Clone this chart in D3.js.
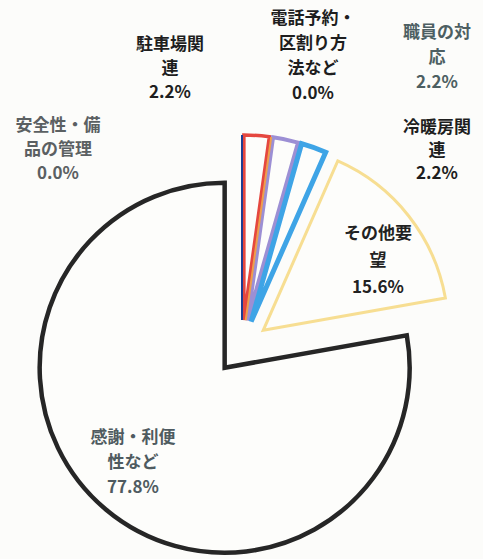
<!DOCTYPE html>
<html lang="ja">
<head>
<meta charset="UTF-8">
<title>Pie</title>
<script src="https://d3js.org/d3.v7.min.js"></script>
<style>
  body { margin: 0; background: #fcfcfa; }
  svg { display: block; }
  .lbl text { font-family: "Noto Sans CJK JP", sans-serif; font-weight: 700; font-size: 17px; }
</style>
</head>
<body>
<svg id="chart"></svg>
<script>
// data
const categories = ["安全性・備品の管理", "駐車場関連", "電話予約・区割り方法など", "職員の対応", "冷暖房関連", "その他要望", "感謝・利便性など"];
const values = [0.0, 2.2, 0.0, 2.2, 2.2, 15.6, 77.8];
const labelLines = [
    ["安全性・備", "品の管理"],
    ["駐車場関", "連"],
    ["電話予約・", "区割り方", "法など"],
    ["職員の対", "応"],
    ["冷暖房関", "連"],
    ["その他要", "望"],
    ["感謝・利便", "性など"]
];

const width = 483, height = 559;
const cx = 242, cy = 347, radius = 185, explode = 27;

const colors = ["#1d3d93", "#e5473f", "#ee9f4c", "#9c8fd4", "#3ea4e6", "#f7de92", "#262626"];
const strokeW = [2, 3.5, 2, 4, 5, 3, 4.5];
const textColor = ["#5b6062", "#1e1e1e", "#1e1e1e", "#4d5f62", "#1e1e1e", "#222", "#4f5b60"];

// label anchor points (px, page coords) - first line baseline, line gap
const labelPos = [[58, 131, 24], [170, 50, 24], [313, 24, 25], [437, 38, 25], [437, 133, 23], [378, 239, 27], [133, 443, 25]];

const svg = d3.select("#chart").attr("width", width).attr("height", height);

const pie = d3.pie().sort(null).value(d => d.v);
const arcs = pie(values.map((v, i) => ({ v, i })));
const arc = d3.arc().innerRadius(0).outerRadius(radius);

const g = svg.append("g").attr("transform", `translate(${cx},${cy})`);

// small slices, then the 0% lines on top of them, big one last
const rank = d => d.data.v === 0 ? 50 : d.data.v;
const order = arcs.slice().sort((a, b) => rank(a) - rank(b));
g.selectAll("path.slice")
    .data(order)
    .enter().append("path")
    .attr("class", "slice")
    .attr("d", arc)
    .attr("transform", d => {
        const mid = (d.startAngle + d.endAngle) / 2;
        return `translate(${explode * Math.sin(mid)},${-explode * Math.cos(mid)})`;
    })
    .attr("fill", "#fdfdfb")
    .attr("fill-opacity", d => d.data.v > 0 ? 1 : 0)
    .attr("stroke", d => colors[d.data.i])
    .attr("stroke-width", d => strokeW[d.data.i])
    .attr("stroke-linejoin", "miter");

// labels
const lbl = svg.append("g").attr("class", "lbl");
categories.forEach((c, i) => {
    const p = labelPos[i];
    const t = lbl.append("text")
        .attr("x", p[0])
        .attr("y", p[1])
        .attr("text-anchor", "middle")
        .attr("fill", textColor[i]);
    const lines = labelLines[i].concat([values[i].toFixed(1) + "%"]);
    lines.forEach((s, k) => {
        t.append("tspan")
            .attr("x", p[0])
            .attr("dy", k === 0 ? 0 : p[2])
            .text(s);
    });
});
</script>
</body>
</html>
